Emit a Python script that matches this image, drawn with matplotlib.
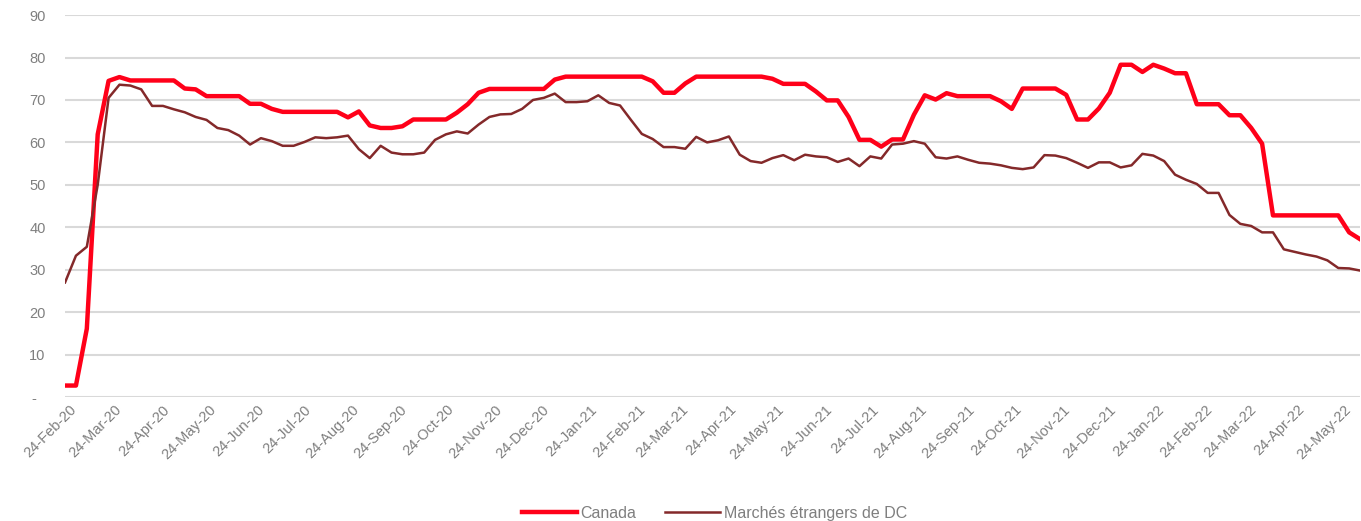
import numpy as np
import pandas as pd
import matplotlib
matplotlib.use("Agg")
import matplotlib.pyplot as plt
import matplotlib.dates as mdates
from matplotlib.ticker import FuncFormatter
import matplotlib.transforms as mtransforms

plt.rcParams['font.family'] = ['Liberation Sans', 'DejaVu Sans']

# weekly dates (Mondays), starting 24-Feb-20
dates = pd.date_range("2020-02-24", periods=120, freq="7D")

canada = [
    2.7, 2.7, 16.1, 61.9, 74.5, 75.4, 74.6, 74.6, 74.6, 74.6,
    74.6, 72.7, 72.5, 70.9, 70.9, 70.9, 70.9, 69.1, 69.1, 67.9,
    67.2, 67.2, 67.2, 67.2, 67.2, 67.2, 65.9, 67.3, 64.0, 63.4,
    63.4, 63.8, 65.4, 65.4, 65.4, 65.4, 67.0, 69.0, 71.7, 72.6,
    72.6, 72.6, 72.6, 72.6, 72.6, 74.8, 75.5, 75.5, 75.5, 75.5,
    75.5, 75.5, 75.5, 75.5, 74.4, 71.7, 71.7, 73.9, 75.5, 75.5,
    75.5, 75.5, 75.5, 75.5, 75.5, 75.0, 73.8, 73.8, 73.8, 72.0,
    69.9, 69.9, 66.0, 60.6, 60.6, 59.0, 60.7, 60.7, 66.5, 71.1,
    70.1, 71.6, 70.9, 70.9, 70.9, 70.9, 69.7, 67.9, 72.7, 72.7,
    72.7, 72.7, 71.2, 65.4, 65.4, 68.0, 71.7, 78.3, 78.3, 76.6,
    78.3, 77.4, 76.3, 76.3, 69.0, 69.0, 69.0, 66.4, 66.4, 63.4,
    59.7, 42.8, 42.8, 42.8, 42.8, 42.8, 42.8, 42.8, 38.8, 37.2,
]

dc_foreign = [
    27.0, 33.3, 35.4, 50.0, 70.5, 73.6, 73.4, 72.5, 68.6, 68.6,
    67.8, 67.1, 66.0, 65.3, 63.4, 62.9, 61.6, 59.5, 61.0, 60.3,
    59.2, 59.2, 60.1, 61.2, 61.0, 61.2, 61.6, 58.4, 56.3, 59.2,
    57.6, 57.2, 57.2, 57.6, 60.6, 61.9, 62.6, 62.1, 64.2, 66.0,
    66.6, 66.7, 67.9, 70.0, 70.5, 71.5, 69.5, 69.5, 69.7, 71.1,
    69.3, 68.7, 65.3, 62.0, 60.8, 58.9, 58.9, 58.5, 61.3, 60.0,
    60.5, 61.4, 57.1, 55.6, 55.2, 56.3, 57.0, 55.8, 57.1, 56.7,
    56.5, 55.4, 56.2, 54.4, 56.7, 56.2, 59.5, 59.7, 60.3, 59.7,
    56.5, 56.2, 56.7, 55.9, 55.2, 55.0, 54.6, 54.0, 53.7, 54.1,
    57.0, 56.9, 56.3, 55.2, 54.0, 55.3, 55.3, 54.1, 54.6, 57.3,
    56.9, 55.6, 52.4, 51.2, 50.2, 48.1, 48.1, 42.9, 40.8, 40.3,
    38.8, 38.8, 34.8, 34.2, 33.6, 33.1, 32.2, 30.4, 30.3, 29.8,
]

tick_dates = pd.date_range("2020-02-24", "2022-05-24", freq=pd.DateOffset(months=1))

grey = "#7f7f7f"

fig = plt.figure(figsize=(13.61, 5.21), dpi=100)
ax = fig.add_axes([0.0478, 0.238, 0.9515, 0.733])

ax.plot(dates, canada, color="#ff0019", lw=3.2, label="Canada", zorder=3)
ax.plot(dates, dc_foreign, color="#84292a", lw=1.8, label="Marchés étrangers de DC", zorder=3)

ax.set_ylim(0, 90)
ax.set_yticks(range(0, 91, 10))
ax.yaxis.set_major_formatter(FuncFormatter(lambda v, p: "-  " if v == 0 else f"{v:.0f}"))
ax.set_xlim(dates[0], dates[-1])
ax.set_xticks(tick_dates)
ax.xaxis.set_major_formatter(mdates.DateFormatter("%d-%b-%y"))

ax.grid(axis="y", color="#d9d9d9", lw=1.5, zorder=0)
for s in ax.spines.values():
    s.set_visible(False)
ax.tick_params(axis="both", length=0, labelsize=10.5, labelcolor=grey)
ax.tick_params(axis="y", pad=14)
ax.tick_params(axis="x", pad=4)

offset = mtransforms.ScaledTranslation(4 / 100, 0, fig.dpi_scale_trans)
for lbl in ax.get_xticklabels():
    lbl.set_rotation(45)
    lbl.set_ha("right")
    lbl.set_va("top")
    lbl.set_rotation_mode("anchor")
    lbl.set_transform(lbl.get_transform() + offset)

leg = fig.legend(loc="center", bbox_to_anchor=(0.525, 0.015), ncol=2, frameon=False,
                 fontsize=11.5, handlelength=3.4, handletextpad=0.25, columnspacing=1.8)
for t in leg.get_texts():
    t.set_color(grey)

fig.savefig("out.png", dpi=100)
